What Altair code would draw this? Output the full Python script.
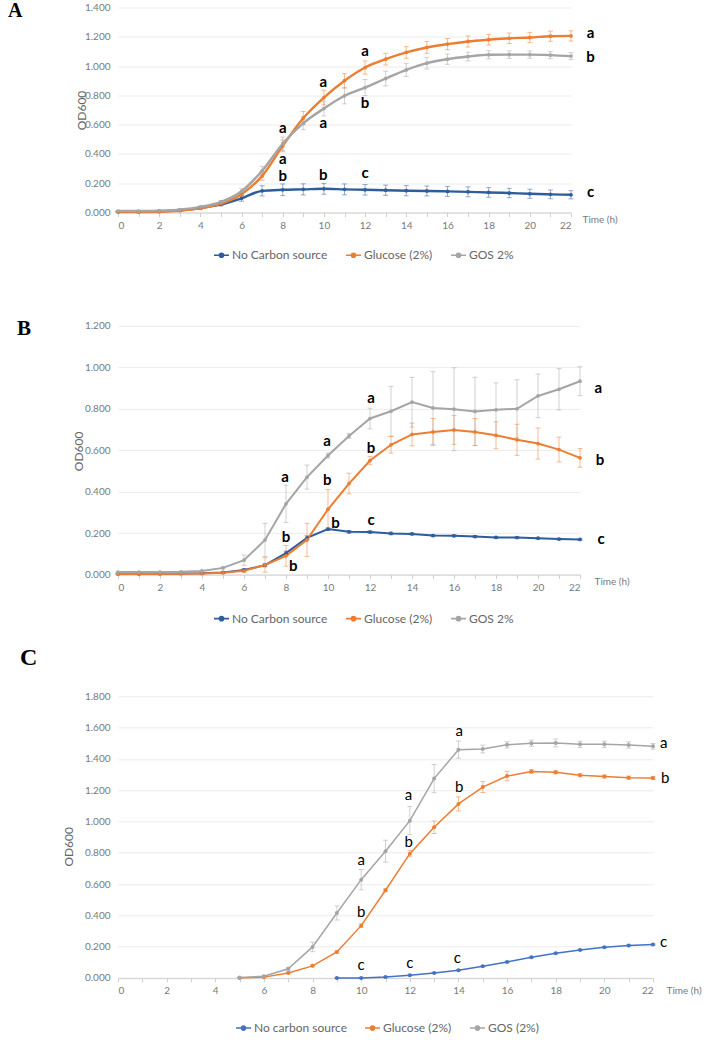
import altair as alt
import pandas as pd

# ---------------- data ----------------
hours = list(range(23))

A_names = ["No Carbon source", "Glucose (2%)", "GOS 2%"]
A_none = [0.005, 0.005, 0.008, 0.015, 0.030, 0.055, 0.097, 0.148, 0.155, 0.158, 0.162, 0.158, 0.155,
          0.152, 0.149, 0.147, 0.144, 0.141, 0.137, 0.133, 0.128, 0.124, 0.121]
A_none_err = [0.003, 0.003, 0.003, 0.004, 0.006, 0.010, 0.020, 0.035, 0.040, 0.038, 0.037, 0.037, 0.036,
              0.035, 0.035, 0.034, 0.034, 0.034, 0.033, 0.032, 0.031, 0.030, 0.028]
A_glu = [0.003, 0.003, 0.005, 0.012, 0.028, 0.060, 0.125, 0.250, 0.455, 0.645, 0.785, 0.900, 0.990,
         1.047, 1.093, 1.127, 1.150, 1.168, 1.180, 1.190, 1.195, 1.204, 1.206]
A_glu_err = [0.002, 0.002, 0.003, 0.004, 0.006, 0.010, 0.015, 0.030, 0.040, 0.045, 0.050, 0.050, 0.045,
             0.040, 0.040, 0.040, 0.038, 0.038, 0.036, 0.036, 0.035, 0.035, 0.035]
A_gos = [0.010, 0.010, 0.012, 0.020, 0.038, 0.072, 0.145, 0.285, 0.470, 0.610, 0.710, 0.797, 0.853,
         0.915, 0.974, 1.020, 1.047, 1.065, 1.077, 1.078, 1.078, 1.075, 1.068]
A_gos_err = [0.003, 0.003, 0.003, 0.004, 0.006, 0.010, 0.018, 0.030, 0.045, 0.045, 0.050, 0.055, 0.055,
             0.050, 0.045, 0.040, 0.035, 0.030, 0.028, 0.026, 0.025, 0.024, 0.024]
A_let_t = [8, 8, 8, 9.97, 9.97, 9.97, 12.0, 12.0, 12.0, 22.95, 22.95, 22.95]
A_let_v = [0.574, 0.362, 0.250, 0.892, 0.608, 0.257, 1.104, 0.751, 0.268, 1.225, 1.059, 0.137]
A_let = ["a", "a", "b", "a", "a", "b", "a", "b", "c", "a", "b", "c"]

B_names = ["No Carbon source", "Glucose (2%)", "GOS 2%"]
B_none = [0.003, 0.003, 0.004, 0.005, 0.006, 0.010, 0.022, 0.045, 0.103, 0.177, 0.219, 0.206, 0.205,
          0.198, 0.196, 0.188, 0.187, 0.183, 0.179, 0.178, 0.175, 0.171, 0.169]
B_none_err = [0.002, 0.002, 0.002, 0.002, 0.002, 0.003, 0.005, 0.008, 0.010, 0.010, 0.006, 0.006, 0.006,
              0.006, 0.005, 0.005, 0.005, 0.005, 0.004, 0.004, 0.004, 0.004, 0.004]
B_glu = [0.003, 0.003, 0.003, 0.004, 0.005, 0.008, 0.018, 0.046, 0.090, 0.167, 0.315, 0.439, 0.550,
         0.626, 0.676, 0.688, 0.698, 0.688, 0.672, 0.650, 0.632, 0.603, 0.563]
B_glu_err = [0.002, 0.002, 0.002, 0.002, 0.002, 0.003, 0.008, 0.035, 0.050, 0.080, 0.095, 0.050, 0.020,
             0.040, 0.055, 0.065, 0.070, 0.065, 0.065, 0.075, 0.075, 0.060, 0.045]
B_gos = [0.012, 0.012, 0.012, 0.013, 0.017, 0.032, 0.069, 0.167, 0.341, 0.470, 0.574, 0.669, 0.753,
         0.788, 0.832, 0.804, 0.798, 0.787, 0.795, 0.800, 0.862, 0.894, 0.933]
B_gos_err = [0.003, 0.003, 0.003, 0.003, 0.004, 0.005, 0.025, 0.080, 0.090, 0.058, 0.012, 0.012, 0.050,
             0.120, 0.120, 0.175, 0.200, 0.165, 0.130, 0.140, 0.105, 0.100, 0.070]
B_let_t = [7.95, 9.96, 9.96, 10.36, 8.0, 8.35, 12.05, 12.05, 12.05, 22.87, 22.95, 23.0]
B_let_v = [0.471, 0.642, 0.457, 0.248, 0.181, 0.042, 0.854, 0.610, 0.262, 0.900, 0.553, 0.169]
B_let = ["a", "a", "b", "b", "b", "b", "a", "b", "c", "a", "b", "c"]

C_names = ["No carbon source", "Glucose (2%)", "GOS (2%)"]
C_hours_none = list(range(9, 23))
C_hours_main = list(range(5, 23))
C_none = [0.000, 0.000, 0.006, 0.017, 0.032, 0.049, 0.075, 0.102, 0.132, 0.158, 0.179, 0.196, 0.207, 0.213]
C_none_err = [0.001, 0.001, 0.002, 0.002, 0.003, 0.003, 0.003, 0.004, 0.004, 0.004, 0.004, 0.004, 0.004, 0.004]
C_glu = [0.000, 0.005, 0.032, 0.077, 0.166, 0.334, 0.560, 0.794, 0.963, 1.112, 1.220, 1.290, 1.320,
         1.314, 1.295, 1.287, 1.280, 1.278]
C_glu_err = [0.002, 0.003, 0.005, 0.006, 0.008, 0.012, 0.010, 0.020, 0.040, 0.045, 0.035, 0.030, 0.012,
             0.010, 0.010, 0.010, 0.010, 0.010]
C_gos = [0.002, 0.011, 0.058, 0.198, 0.415, 0.628, 0.810, 1.005, 1.274, 1.459, 1.463, 1.490, 1.500,
         1.502, 1.493, 1.493, 1.489, 1.480]
C_gos_err = [0.003, 0.005, 0.010, 0.030, 0.045, 0.065, 0.070, 0.090, 0.090, 0.055, 0.025, 0.020, 0.020,
             0.025, 0.020, 0.020, 0.020, 0.018]
C_let_t = [14.03, 11.95, 14.03, 11.95, 10.0, 10.0, 10.0, 12.0, 13.95, 22.44, 22.5, 22.44]
C_let_v = [1.577, 1.168, 1.219, 0.867, 0.756, 0.422, 0.085, 0.096, 0.128, 1.502, 1.279, 0.228]
C_let = ["a", "a", "b", "b", "a", "b", "c", "c", "c", "a", "b", "c"]

COL_AB = ["#2f5d9c", "#ed7d31", "#a5a5a5"]
COL_C = ["#4472c4", "#ed7d31", "#a5a5a5"]


def series_df(names, hour_lists, vals, errs):
    rows = []
    for n, hs, vs, es in zip(names, hour_lists, vals, errs):
        for h, v, e in zip(hs, vs, es):
            rows.append({"s": n, "t": h, "v": v, "lo": max(v - e, 0.0), "hi": v + e})
    return pd.DataFrame(rows)


def letters_df(ts, vs, labs):
    return pd.DataFrame({"t": ts, "v": vs, "lab": labs})


GRAY = "#7a7a7a"
LEGEND_SYMBOL = "M-1,0L1,0M-0.27,0a0.27,0.27 0 1,0 0.54,0a0.27,0.27 0 1,0 -0.54,0"


def panel(df, ldf, names, colors, ymax, ytop, w, h, interp, lw, ps, label, label_dx, label_size,
          label_dy, xt_dx, xt_dy, yt_x, yt_y, leg_x, leg_y, let_weight, let_size):
    cs = alt.Scale(domain=names, range=colors)
    xs = alt.Scale(domain=[0, 22], nice=False, zero=False)
    ys = alt.Scale(domain=[0, ymax], nice=False)
    x_axis = alt.Axis(values=hours, labelExpr="datum.value % 2 == 0 ? datum.label : ''",
                      title="Time (h)", titleX=w + xt_dx, titleY=xt_dy, titleAlign="left",
                      titleBaseline="middle", titleAngle=0, titleFontSize=10, titleFontWeight="normal",
                      titleColor=GRAY, grid=False, domainColor="#d0d0d0", tickColor="#d0d0d0",
                      tickSize=4, labelPadding=4, labelColor=GRAY, labelFontSize=10)
    y_ticks = [round(0.2 * i, 1) for i in range(int(round(ytop / 0.2)) + 1)]
    y_axis = alt.Axis(values=y_ticks, format=".3f", title="OD600", grid=True, gridColor="#ebebeb",
                      domain=False, ticks=False, labelPadding=8, labelColor=GRAY, labelFontSize=10,
                      titleX=yt_x, titleY=yt_y, titleAngle=270, titleAlign="center",
                      titleBaseline="middle", titleFontSize=12, titleFontWeight="normal",
                      titleColor="#666666")
    legend = alt.Legend(title=None, orient="none", legendX=leg_x, legendY=leg_y, direction="horizontal",
                        symbolType=LEGEND_SYMBOL, symbolSize=225, symbolStrokeWidth=1.6,
                        symbolOpacity=1, labelFontSize=12, labelColor="#666666", labelFont="Lato",
                        columnPadding=14, labelOffset=2)
    X = alt.X("t:Q", scale=xs, axis=x_axis)
    col = alt.Color("s:N", scale=cs, legend=legend)
    base = alt.Chart(df)
    rules = base.mark_rule(strokeWidth=1, opacity=0.5).encode(
        x=X, y=alt.Y("lo:Q", scale=ys, axis=y_axis), y2="hi:Q", color=col)
    cap_lo = base.mark_tick(orient="horizontal", size=5, thickness=1, opacity=0.5).encode(
        x=X, y=alt.Y("lo:Q", scale=ys, axis=y_axis), color=col)
    cap_hi = base.mark_tick(orient="horizontal", size=5, thickness=1, opacity=0.5).encode(
        x=X, y=alt.Y("hi:Q", scale=ys, axis=y_axis), color=col)
    line = base.mark_line(strokeWidth=lw, interpolate=interp).encode(
        x=X, y=alt.Y("v:Q", scale=ys, axis=y_axis), color=col)
    pts = base.mark_circle(size=ps, opacity=1).encode(
        x=X, y=alt.Y("v:Q", scale=ys, axis=y_axis), color=col)
    txt = alt.Chart(ldf).mark_text(font="Lato", fontSize=let_size, fontWeight=let_weight, color="black",
                                   align="center", baseline="middle").encode(
        x=X, y=alt.Y("v:Q", scale=ys, axis=y_axis), text="lab:N")
    return alt.layer(rules, cap_lo, cap_hi, line, pts, txt).properties(
        width=w, height=h,
        title=alt.TitleParams(text=label, anchor="start", frame="group", dx=label_dx, dy=label_dy,
                              font="Liberation Serif", fontSize=label_size, fontWeight="bold",
                              color="black", baseline="top", offset=0))


dfA = series_df(A_names, [hours] * 3, [A_none, A_glu, A_gos], [A_none_err, A_glu_err, A_gos_err])
dfB = series_df(B_names, [hours] * 3, [B_none, B_glu, B_gos], [B_none_err, B_glu_err, B_gos_err])
dfC = series_df(C_names, [C_hours_none, C_hours_main, C_hours_main], [C_none, C_glu, C_gos],
                [C_none_err, C_glu_err, C_gos_err])

pA = panel(dfA, letters_df(A_let_t, A_let_v, A_let), A_names, COL_AB, 1.4, 1.4, 453, 205, "monotone",
           2.4, 14, "A", -110, 20, 18, 11, 7, -37, 102.5, 95, 239, "bold", 15)
pB = panel(dfB, letters_df(B_let_t, B_let_v, B_let), B_names, COL_AB, 1.2, 1.2, 462, 248.6, "linear",
           2.0, 14, "B", -101, 21, 18, 14, 7, -40, 125, 95, 284, "bold", 15)
pC = panel(dfC, letters_df(C_let_t, C_let_v, C_let), C_names, COL_C, 1.8511, 1.8, 535, 289.6, "linear",
           1.5, 16, "C", -98, 24, -18, 13, 13, -50, 158, 117, 331, "normal", 15)

chart = alt.vconcat(pA, pB, pC, spacing=113.4, bounds="flush").resolve_scale(
    color="independent", x="independent", y="independent").resolve_legend(color="independent").properties(
    padding={"top": 0.5, "left": 8, "right": 0, "bottom": 0}, background="white"
).configure_view(stroke=None).configure_axis(labelFont="Lato", titleFont="Lato")

chart.save("out.html", embed_options={"renderer": "svg", "actions": False})
